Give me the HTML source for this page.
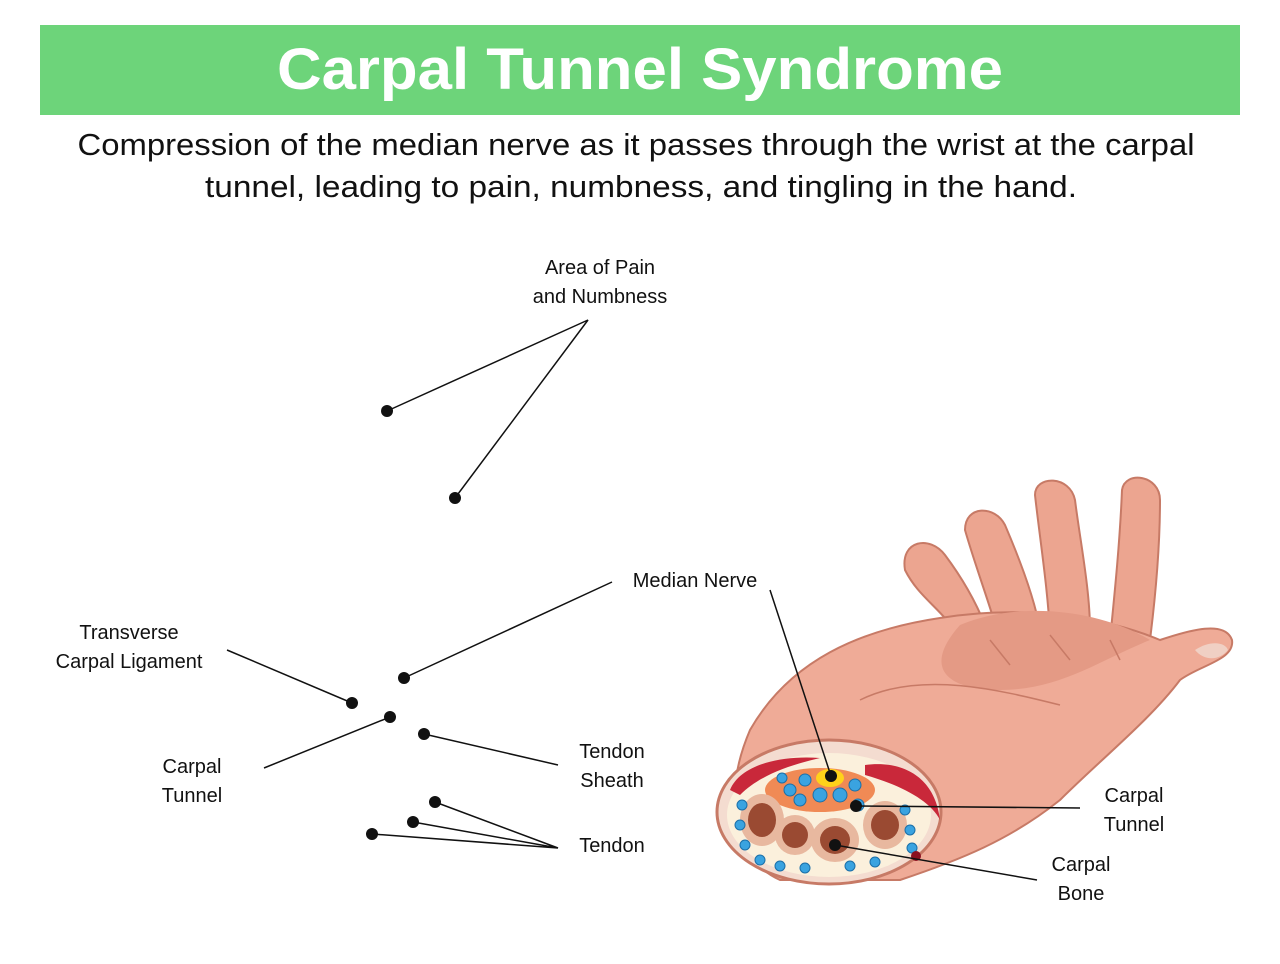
<!DOCTYPE html>
<html><head><style>html,body{margin:0;padding:0;background:#fff}svg{display:block}</style></head><body>
<svg width="1280" height="964" viewBox="0 0 1280 964" xmlns="http://www.w3.org/2000/svg" font-family="Liberation Sans, sans-serif">
<rect x="40" y="25" width="1200" height="90" fill="#6dd47a"/>
<text x="640" y="89" text-anchor="middle" font-size="58" font-weight="bold" fill="#fff" textLength="726" lengthAdjust="spacingAndGlyphs">Carpal Tunnel Syndrome</text>
<text x="636" y="155" text-anchor="middle" font-size="31" fill="#111" textLength="1117" lengthAdjust="spacingAndGlyphs">Compression of the median nerve as it passes through the wrist at the carpal</text>
<text x="641" y="197" text-anchor="middle" font-size="31" fill="#111" textLength="872" lengthAdjust="spacingAndGlyphs">tunnel, leading to pain, numbness, and tingling in the hand.</text>

<g font-size="20" fill="#111" text-anchor="middle">
<text x="600" y="274">Area of Pain</text><text x="600" y="303">and Numbness</text>
<text x="695" y="587">Median Nerve</text>
<text x="129" y="639">Transverse</text><text x="129" y="668">Carpal Ligament</text>
<text x="192" y="773">Carpal</text><text x="192" y="802">Tunnel</text>
<text x="612" y="758">Tendon</text><text x="612" y="787">Sheath</text>
<text x="612" y="852">Tendon</text>
<text x="1134" y="802">Carpal</text><text x="1134" y="831">Tunnel</text>
<text x="1081" y="871">Carpal</text><text x="1081" y="900">Bone</text>
</g>

<!-- hand -->
<g stroke="#c77a66" stroke-width="2">
<path d="M905,570 C900,540 930,535 945,555 C960,575 975,600 985,625 L960,640 C945,610 920,600 905,570Z" fill="#eca590"/>
<path d="M965,530 C965,505 995,505 1005,525 C1020,560 1035,600 1040,630 L1000,640 C990,605 975,565 965,530Z" fill="#eca590"/>
<path d="M1035,495 C1035,475 1070,475 1075,500 C1080,540 1090,590 1090,630 L1050,635 C1048,590 1040,540 1035,495Z" fill="#eca590"/>
<path d="M1122,490 C1125,470 1160,475 1160,500 C1160,550 1155,600 1150,640 L1110,640 C1115,590 1120,540 1122,490Z" fill="#eca590"/>
<path d="M750,730 C790,660 860,630 940,618 C1020,605 1100,615 1160,640 C1190,630 1225,620 1232,640 C1235,660 1200,665 1180,680 C1150,720 1100,760 1060,800 C1010,840 960,860 900,880 L780,880 C735,860 720,800 750,730Z" fill="#efab97"/>
<path d="M960,625 C1020,600 1100,610 1150,640 C1100,660 1060,690 1000,690 C950,690 920,670 960,625Z" fill="#e49a85" stroke="none"/>
<path d="M1195,650 C1210,640 1225,642 1228,650 C1220,660 1205,662 1195,650Z" fill="#f0d0c4" stroke="none"/>
<path d="M990,640 L1010,665 M1050,635 L1070,660 M1110,640 L1120,660 M860,700 C920,670 1000,690 1060,705" fill="none" stroke-width="1.5"/>
<ellipse cx="829" cy="812" rx="112" ry="72" fill="#f4dcd0" stroke="#c77a66" stroke-width="3"/>
</g>
<ellipse cx="829" cy="815" rx="102" ry="62" fill="#fbf0dc"/>
<path d="M730,790 C740,765 780,755 820,758 C790,765 760,775 740,795Z" fill="#c9283a"/>
<path d="M865,765 C900,760 935,775 940,820 C930,800 900,785 865,775Z" fill="#c9283a"/>
<ellipse cx="820" cy="790" rx="55" ry="22" fill="#f08a55"/>
<ellipse cx="830" cy="778" rx="14" ry="9" fill="#ffd21a"/>
<g fill="#e8b89f">
<ellipse cx="762" cy="820" rx="22" ry="26"/><ellipse cx="795" cy="835" rx="20" ry="20"/><ellipse cx="835" cy="840" rx="24" ry="22"/><ellipse cx="885" cy="825" rx="22" ry="24"/>
</g>
<g fill="#9a4a32">
<ellipse cx="762" cy="820" rx="14" ry="17"/><ellipse cx="795" cy="835" rx="13" ry="13"/><ellipse cx="835" cy="840" rx="15" ry="14"/><ellipse cx="885" cy="825" rx="14" ry="15"/>
</g>
<g fill="#3aa3e0" stroke="#1b6fa8" stroke-width="1">
<circle cx="790" cy="790" r="6"/><circle cx="805" cy="780" r="6"/><circle cx="820" cy="795" r="7"/><circle cx="840" cy="795" r="7"/><circle cx="855" cy="785" r="6"/><circle cx="858" cy="805" r="6"/><circle cx="800" cy="800" r="6"/><circle cx="782" cy="778" r="5"/>
<circle cx="742" cy="805" r="5"/><circle cx="740" cy="825" r="5"/><circle cx="745" cy="845" r="5"/><circle cx="760" cy="860" r="5"/><circle cx="780" cy="866" r="5"/><circle cx="805" cy="868" r="5"/><circle cx="850" cy="866" r="5"/><circle cx="875" cy="862" r="5"/><circle cx="905" cy="810" r="5"/><circle cx="910" cy="830" r="5"/><circle cx="912" cy="848" r="5"/>
</g>
<circle cx="916" cy="856" r="5" fill="#8a1020"/>

<g stroke="#111" stroke-width="1.5" fill="none">
<path d="M387,411 L588,320 L455,498"/>
<path d="M404,678 L612,582"/>
<path d="M227,650 L352,703"/>
<path d="M264,768 L390,717"/>
<path d="M424,734 L558,765"/>
<path d="M435,802 L558,848 L413,822 M558,848 L372,834"/>
<path d="M770,590 L831,776"/>
<path d="M856,806 L1080,808"/>
<path d="M835,845 L1037,880"/>
</g>
<g fill="#111">
<circle cx="387" cy="411" r="6"/><circle cx="455" cy="498" r="6"/><circle cx="404" cy="678" r="6"/><circle cx="352" cy="703" r="6"/><circle cx="390" cy="717" r="6"/><circle cx="424" cy="734" r="6"/><circle cx="435" cy="802" r="6"/><circle cx="413" cy="822" r="6"/><circle cx="372" cy="834" r="6"/>
<circle cx="831" cy="776" r="6"/><circle cx="856" cy="806" r="6"/><circle cx="835" cy="845" r="6"/>
</g>
</svg>
</body></html>
